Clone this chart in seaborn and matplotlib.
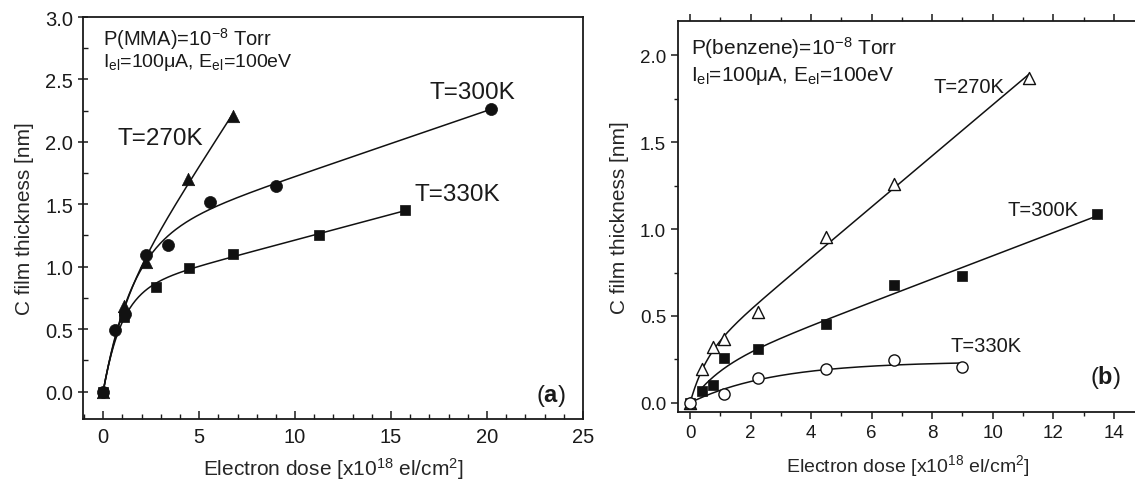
import numpy as np
import pandas as pd
import matplotlib
matplotlib.use("Agg")
import matplotlib.pyplot as plt
import seaborn as sns
from matplotlib.ticker import MultipleLocator, FormatStrFormatter

# ---------------- data ----------------
# Panel (a): MMA
a_270_x = [0.0, 1.10, 2.24, 4.44, 6.75]
a_270_y = [0.0, 0.686, 1.037, 1.70, 2.21]
a_300_x = [0.0, 0.61, 1.12, 2.24, 3.36, 5.59, 9.0, 20.2]
a_300_y = [0.0, 0.495, 0.62, 1.096, 1.173, 1.519, 1.644, 2.263]
a_330_x = [0.0, 1.10, 2.75, 4.47, 6.75, 11.24, 15.75]
a_330_y = [0.0, 0.60, 0.838, 0.989, 1.10, 1.25, 1.452]

# Panel (b): benzene
b_270_x = [0.0, 0.40, 0.76, 1.13, 2.24, 4.49, 6.73, 11.21]
b_270_y = [0.0, 0.192, 0.322, 0.366, 0.523, 0.955, 1.258, 1.871]
b_300_x = [0.0, 0.38, 0.76, 1.13, 2.24, 4.49, 6.73, 8.97, 13.45]
b_300_y = [0.0, 0.069, 0.10, 0.259, 0.309, 0.451, 0.677, 0.732, 1.089]
b_330_x = [0.0, 1.13, 2.24, 4.49, 6.73, 8.97]
b_330_y = [0.0, 0.05, 0.144, 0.194, 0.245, 0.203]

# fitted-curve start dose for the b/300K series
b_300_curve_start = 0.38

labels_T = ["T=270K", "T=300K", "T=330K"]
xlabel = "Electron dose [x10$^{18}$ el/cm$^{2}$]"
ylabel = "C film thickness [nm]"

# ---------------- style ----------------
sns.set_theme(style="ticks")
plt.rcParams["font.family"] = ["Liberation Sans", "DejaVu Sans"]
plt.rcParams["mathtext.fontset"] = "custom"
plt.rcParams["mathtext.rm"] = "Liberation Sans"
plt.rcParams["mathtext.it"] = "Liberation Sans:italic"
plt.rcParams["mathtext.bf"] = "Liberation Sans:bold"
plt.rcParams["mathtext.default"] = "regular"
plt.rcParams["axes.linewidth"] = 1.3
plt.rcParams["axes.edgecolor"] = "#1a1a1a"
plt.rcParams["text.color"] = "#1a1a1a"
plt.rcParams["xtick.color"] = "#1a1a1a"
plt.rcParams["ytick.color"] = "#1a1a1a"


def fit_model(x, y):
    """Least-squares fit of y = A(1-exp(-x/t)) + B x, with B >= 0."""
    x = np.asarray(x, float)
    y = np.asarray(y, float)
    best = None
    for t in np.logspace(-1.5, 1.8, 500):
        e = 1 - np.exp(-x / t)
        M = np.column_stack([e, x])
        coef, *_ = np.linalg.lstsq(M, y, rcond=None)
        if coef[1] < 0:
            A = np.dot(e, y) / np.dot(e, e)
            coef = np.array([A, 0.0])
        err = np.sum((M @ coef - y) ** 2)
        if best is None or err < best[0]:
            best = (err, t, coef)
    _, t, (A, B) = best
    return lambda xx: A * (1 - np.exp(-xx / t)) + B * xx


def draw_series(ax, x, y, marker, filled, ms, start=None):
    f = fit_model(x, y)
    x0 = min(x) if start is None else start
    xx = np.linspace(x0, max(x), 300)
    sns.lineplot(x=xx, y=f(xx), ax=ax, color="#111111", lw=1.1)
    df = pd.DataFrame({"x": x, "y": y})
    sns.scatterplot(data=df, x="x", y="y", ax=ax, marker=marker, s=ms,
                    facecolor="#111111" if filled else "white",
                    edgecolor="#111111", linewidth=1.0 if not filled else 0.5,
                    zorder=3)


fig = plt.figure(figsize=(11.35, 4.81), dpi=100)
W, H = 1135, 481
axa = fig.add_axes([83 / W, (H - 420) / H, 500 / W, 402 / H])
axb = fig.add_axes([678 / W, (H - 413.3) / H, 460 / W, 391.6 / H])

# ---------------- panel (a) ----------------
draw_series(axa, a_270_x, a_270_y, "^", True, 80)
draw_series(axa, a_300_x, a_300_y, "o", True, 75)
draw_series(axa, a_330_x, a_330_y, "s", True, 62)
axa.set_xlim(-1.05, 25)
axa.set_ylim(-0.22, 3.0)
axa.xaxis.set_major_locator(MultipleLocator(5))
axa.xaxis.set_minor_locator(MultipleLocator(1))
axa.yaxis.set_major_locator(MultipleLocator(0.5))
axa.yaxis.set_minor_locator(MultipleLocator(0.25))
axa.yaxis.set_major_formatter(FormatStrFormatter("%.1f"))
axa.tick_params(axis="x", which="major", direction="in", length=6, width=1.1, labelsize=14.5, pad=6)
axa.tick_params(axis="x", which="minor", direction="in", length=3.5, width=1.0)
axa.tick_params(axis="y", which="major", direction="inout", length=7, width=1.1, labelsize=14.5)
axa.tick_params(axis="y", which="minor", direction="in", length=3.5, width=1.0)
axa.set_xlabel(xlabel, fontsize=15, labelpad=6)
axa.set_ylabel(ylabel, fontsize=15, labelpad=8)
axa.text(0.0, 2.83, "P(MMA)=10$^{-8}$ Torr", fontsize=14.5, va="center")
axa.text(0.0, 2.64, "I$_{el}$=100μA, E$_{el}$=100eV", fontsize=14, va="center")
axa.text(0.75, 2.03, labels_T[0], fontsize=17.5, va="center")
axa.text(17.0, 2.40, labels_T[1], fontsize=17.5, va="center")
axa.text(16.2, 1.58, labels_T[2], fontsize=17.5, va="center")
axa.text(22.55, -0.03, r"($\mathbf{a}$)", fontsize=17, va="center")

# ---------------- panel (b) ----------------
draw_series(axb, b_270_x, b_270_y, "^", False, 75)
draw_series(axb, b_300_x, b_300_y, "s", True, 55, start=b_300_curve_start)
draw_series(axb, b_330_x, b_330_y, "o", False, 65)
axb.set_xlim(-0.4, 14.8)
axb.set_ylim(-0.055, 2.2)
axb.xaxis.set_major_locator(MultipleLocator(2))
axb.xaxis.set_minor_locator(MultipleLocator(1))
axb.yaxis.set_major_locator(MultipleLocator(0.5))
axb.yaxis.set_minor_locator(MultipleLocator(0.25))
axb.yaxis.set_major_formatter(FormatStrFormatter("%.1f"))
axb.tick_params(axis="both", which="major", direction="out", length=5, width=1.1, labelsize=13.5)
axb.tick_params(axis="both", which="minor", direction="out", length=3, width=1.0)
axb.tick_params(axis="x", which="both", top=True)
axb.tick_params(axis="x", which="major", top=True, labeltop=False)
axb.set_xlabel(xlabel, fontsize=14, labelpad=8)
axb.set_ylabel(ylabel, fontsize=15, labelpad=8)
axb.text(0.02, 2.05, "P(benzene)=10$^{-8}$ Torr", fontsize=15, va="center")
axb.text(0.02, 1.89, "I$_{el}$=100μA, E$_{el}$=100eV", fontsize=15, va="center")
axb.text(8.05, 1.82, labels_T[0], fontsize=14.5, va="center")
axb.text(10.5, 1.11, labels_T[1], fontsize=14.5, va="center")
axb.text(8.6, 0.33, labels_T[2], fontsize=14.5, va="center")
axb.text(13.2, 0.15, r"($\mathbf{b}$)", fontsize=17, va="center")

fig.savefig("out.png", dpi=100)
